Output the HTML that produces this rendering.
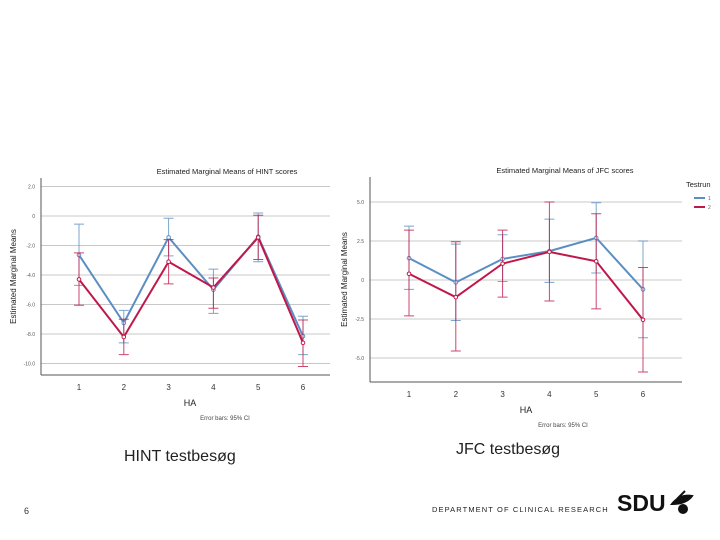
<!DOCTYPE html>
<html><head><meta charset="utf-8"><style>
html,body{margin:0;padding:0;background:#fff;width:720px;height:540px;overflow:hidden}
svg{position:absolute;left:0;top:0;font-family:"Liberation Sans",sans-serif}
</style></head><body>
<svg id="s" width="720" height="540" viewBox="0 0 720 540">
<text x="124" y="461" font-size="16" fill="#222">HINT testbesøg</text>
<text x="456" y="454" font-size="16" fill="#222">JFC testbesøg</text>
<text x="24" y="514" font-size="9" fill="#333">6</text>
<text x="432" y="512" font-size="7.5" letter-spacing="1.1" fill="#222">DEPARTMENT OF CLINICAL RESEARCH</text>
<g>
<text x="617" y="511" font-size="23" font-weight="bold" fill="#111">SDU</text>
<path d="M672 504 q8 -10 20 -8 q-6 8 -20 8z M677 499 l8 -8" stroke="#111" stroke-width="2" fill="#111"/>
<circle cx="683" cy="509" r="5" fill="#111"/>
</g>
</svg>
<script>
const haCats=[1,2,3,4,5,6];
const hintBlue=[-2.64,-7.25,-1.45,-5.0,-1.4,-8.15];
const hintRed=[-4.3,-8.2,-3.1,-4.85,-1.45,-8.6];
const hintBlueLo=[-4.7,-8.6,-2.7,-6.6,-3.1,-9.4];
const hintBlueHi=[-0.55,-6.4,-0.15,-3.6,0.2,-6.8];
const hintRedLo=[-6.05,-9.4,-4.6,-6.25,-2.95,-10.2];
const hintRedHi=[-2.5,-7.0,-1.6,-4.2,0.05,-7.05];
const hintTicks=[2,0,-2,-4,-6,-8,-10];
const hintTickLabels=["2.0","0","-2.0","-4.0","-6.0","-8.0","-10.0"];
const jfcBlue=[1.4,-0.15,1.35,1.85,2.7,-0.6];
const jfcRed=[0.4,-1.1,1.05,1.8,1.2,-2.55];
const jfcBlueLo=[-0.6,-2.6,-0.1,-0.15,0.45,-3.7];
const jfcBlueHi=[3.45,2.3,2.9,3.9,4.95,2.5];
const jfcRedLo=[-2.3,-4.55,-1.1,-1.35,-1.85,-5.9];
const jfcRedHi=[3.2,2.45,3.2,5.0,4.25,0.8];
const jfcTicks=[5,2.5,0,-2.5,-5];
const jfcTickLabels=["5.0","2.5","0","-2.5","-5.0"];
const NS="http://www.w3.org/2000/svg";
const svg=document.getElementById('s');
function mk(tag,at,parent){const e=document.createElementNS(NS,tag);for(const k in at)e.setAttribute(k,at[k]);(parent||svg).appendChild(e);return e;}
function chart(o){
 const g=mk('g',{});
 
 
 const X=i=>o.x0+i*o.dx, Y=v=>o.y0-v*o.ky;
 o.ticks.forEach((t,i)=>{
  const gl=mk('line',{x1:o.ax,x2:o.right,y1:Y(t),y2:Y(t),stroke:'#c8c8c8','stroke-width':1},g);
  
  
  const tl=mk('text',{x:o.ax-6,y:Y(t)+2,'font-size':5,'text-anchor':'end',fill:'#555'},g);
  tl.textContent=o.tickLabels[i];
  
  
 });
 mk('line',{x1:o.ax,x2:o.ax,y1:o.top,y2:o.bottom,stroke:'#555'},g);
 mk('line',{x1:o.ax,x2:o.right,y1:o.bottom,y2:o.bottom,stroke:'#555'},g);
 haCats.forEach((c,i)=>{
  const t=mk('text',{x:X(i),y:o.bottom+15,'font-size':8,'text-anchor':'middle',fill:'#333'},g);
  t.textContent=c;
  
  
 });
 const tt=mk('text',{x:o.titleX,y:o.top-4,'font-size':7.5,'text-anchor':'middle',fill:'#222'},g);tt.textContent=o.title;
 
 const xt=mk('text',{x:o.xtX,y:o.bottom+31,'font-size':9,'text-anchor':'middle',fill:'#222'},g);xt.textContent='HA';
 
 const ft=mk('text',{x:o.ftX,y:o.bottom+45,'font-size':6,'text-anchor':'middle',fill:'#444'},g);ft.textContent=o.foot;
 
 const yt=mk('text',{x:0,y:0,'font-size':8,'text-anchor':'middle',fill:'#222',transform:`translate(${o.ytX},${(o.top+o.bottom)/2}) rotate(-90)`},g);yt.textContent='Estimated Marginal Means';
 
 o.series.forEach(s=>{
  const col=s.col;
  s.lo.forEach((l,i)=>{
   const e=mk('path',{d:`M${X(i)} ${Y(s.hi[i])}V${Y(l)}M${X(i)-5} ${Y(s.hi[i])}h10M${X(i)-5} ${Y(l)}h10`,stroke:col,'stroke-width':1,fill:'none',opacity:0.8},g);
   
   
  });
  const p=mk('polyline',{points:s.v.map((v,i)=>X(i)+','+Y(v)).join(' '),stroke:col,'stroke-width':2,fill:'none'},g);
  
  
  s.v.forEach((v,i)=>{const c=mk('circle',{cx:X(i),cy:Y(v),r:1.8,fill:'#fff',stroke:col,'stroke-width':1},g);
   });
 });
}
chart({name:'hint-chart',x0:79,dx:44.8,y0:216,ky:14.75,ax:41,right:330,top:178,bottom:375,ticks:hintTicks,tickLabels:hintTickLabels,title:'Estimated Marginal Means of HINT scores',titleX:227,xtX:190,ftX:225,foot:'Error bars: 95% CI',ytX:16,
 series:[{name:'hint-line-testrun-1',col:'#5b8fc2',v:hintBlue,lo:hintBlueLo,hi:hintBlueHi},{name:'hint-line-testrun-2',col:'#c0184a',v:hintRed,lo:hintRedLo,hi:hintRedHi}]});
chart({name:'jfc-chart',x0:409,dx:46.8,y0:280,ky:15.6,ax:370,right:682,top:177,bottom:382,ticks:jfcTicks,tickLabels:jfcTickLabels,title:'Estimated Marginal Means of JFC scores',titleX:565,xtX:526,ftX:563,foot:'Error bars: 95% CI',ytX:347,
 series:[{name:'jfc-line-testrun-1',col:'#5b8fc2',v:jfcBlue,lo:jfcBlueLo,hi:jfcBlueHi},{name:'jfc-line-testrun-2',col:'#c0184a',v:jfcRed,lo:jfcRedLo,hi:jfcRedHi}]});
const lg=mk('g',{});


const lt=mk('text',{x:686,y:187,'font-size':7.5,fill:'#222'},lg);lt.textContent='Testrun';
[['#5b8fc2','1',198],['#c0184a','2',207]].forEach(a=>{
 const l=mk('line',{x1:694,x2:705,y1:a[2],y2:a[2],stroke:a[0],'stroke-width':2},lg);
 
 
 const t=mk('text',{x:708,y:a[2]+2,'font-size':5,fill:'#666'},lg);t.textContent=a[1];
});
</script>
</body></html>
